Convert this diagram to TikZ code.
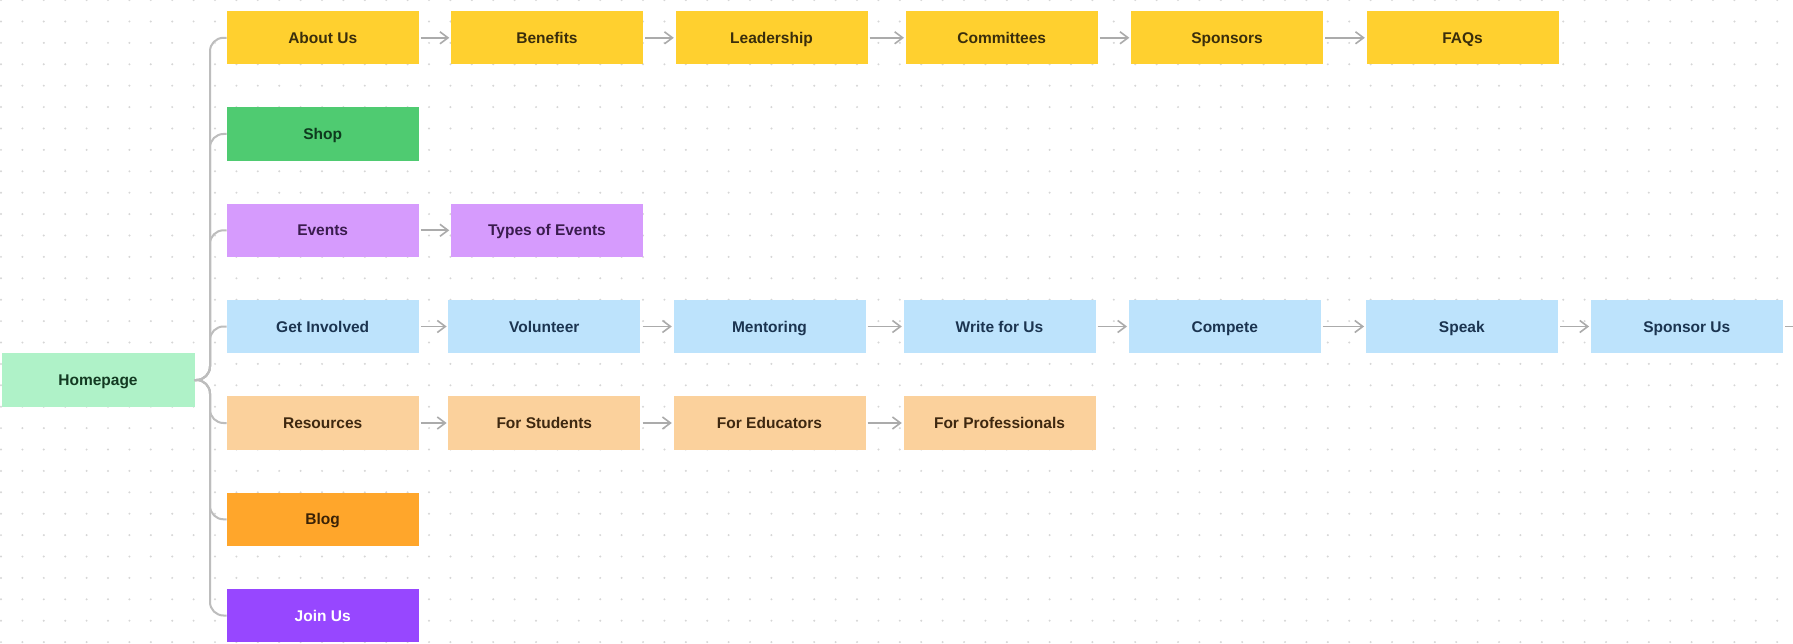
\documentclass[tikz,border=0pt]{standalone}
\usepackage{fontspec}
\setmainfont{Liberation Sans}
\usetikzlibrary{arrows.meta}
\definecolor{cyel}{HTML}{FFD02F}
\definecolor{tyel}{HTML}{3A2E0C}
\definecolor{cgrn}{HTML}{4FCB71}
\definecolor{tgrn}{HTML}{0E3A1E}
\definecolor{clav}{HTML}{D69BFD}
\definecolor{tlav}{HTML}{3A1C4E}
\definecolor{cblu}{HTML}{BDE3FC}
\definecolor{tblu}{HTML}{1B3450}
\definecolor{cpch}{HTML}{FBD19C}
\definecolor{tpch}{HTML}{3E2810}
\definecolor{cmnt}{HTML}{AFF2C8}
\definecolor{tmnt}{HTML}{133A22}
\definecolor{corg}{HTML}{FFA62B}
\definecolor{torg}{HTML}{3A2206}
\definecolor{cpur}{HTML}{9747FF}
\definecolor{dotc}{HTML}{D6D6D6}
\definecolor{arrc}{HTML}{ABABAB}
\definecolor{brc}{HTML}{BDBDBD}
\tikzset{
  boxst/.style={rectangle, minimum width=192pt, minimum height=53.3pt, inner sep=0pt,
    text height=11.1pt, text depth=0pt,
    font=\fontsize{15.5}{18}\selectfont\bfseries},
  yel/.style={boxst, fill=cyel, text=tyel},
  grn/.style={boxst, fill=cgrn, text=tgrn},
  lav/.style={boxst, fill=clav, text=tlav},
  blu/.style={boxst, fill=cblu, text=tblu},
  pch/.style={boxst, fill=cpch, text=tpch},
  mnt/.style={boxst, fill=cmnt, text=tmnt, minimum width=193pt, minimum height=54pt},
  org/.style={boxst, fill=corg, text=torg},
  pur/.style={boxst, fill=cpur, text=white},
  nextarr/.style={draw=arrc, line width=1.6pt, -{Straight Barb[length=8pt,width=12pt,line width=1.6pt]},
    shorten <=2pt, shorten >=1.5pt},
  branch/.style={draw=brc, line width=2pt, rounded corners=13.5pt}
}
\begin{document}
\begin{tikzpicture}[x=1pt,y=-1pt]
\useasboundingbox (0,0) rectangle (1793,644);
\fill[white] (0,0) rectangle (1793,644);
% dot grid
\foreach \i in {0,...,83}{
  \foreach \j in {0,...,30}{
    \fill[dotc] ({1+21.4*\i},{0.1+21.4*\j}) circle (1.1pt);
  }
}
\node[mnt] (home) at (98,380) {Homepage};
% row 1
\node[yel] (about) at (322.7,37.8) {About Us};
\node[yel] (benef) at (547,37.8) {Benefits};
\node[yel] (lead) at (771.5,37.8) {Leadership};
\node[yel] (comm) at (1001.7,37.8) {Committees};
\node[yel] (spons) at (1227,37.8) {Sponsors};
\node[yel] (faqs) at (1462.5,37.8) {FAQs};
% row 2
\node[grn] (shop) at (322.7,134) {Shop};
% row 3
\node[lav] (events) at (322.7,230.3) {Events};
\node[lav] (types) at (547,230.3) {Types of Events};
% row 4
\node[blu] (getinv) at (322.7,326.5) {Get Involved};
\node[blu] (volun) at (544.3,326.5) {Volunteer};
\node[blu] (mentor) at (769.5,326.5) {Mentoring};
\node[blu] (write) at (999.5,326.5) {Write for Us};
\node[blu] (compete) at (1224.7,326.5) {Compete};
\node[blu] (speak) at (1461.8,326.5) {Speak};
\node[blu] (sponus) at (1686.8,326.5) {Sponsor Us};
\coordinate (offright) at (1840,326.5);
% row 5
\node[pch] (resour) at (322.7,423) {Resources};
\node[pch] (stud) at (544.3,423) {For Students};
\node[pch] (educ) at (769.5,423) {For Educators};
\node[pch] (prof) at (999.5,423) {For Professionals};
% row 6, 7
\node[org] (blog) at (322.7,519.3) {Blog};
\node[pur] (join) at (322.7,615.5) {Join Us};
% branches
\coordinate (spine) at (210,380);
\foreach \t in {about,shop,events,getinv,resour,blog,join}{
  \draw[branch] (home.east) -- (spine) |- (\t.west);
}
% arrows
\draw[nextarr] (about) -- (benef);
\draw[nextarr] (benef) -- (lead);
\draw[nextarr] (lead) -- (comm);
\draw[nextarr] (comm) -- (spons);
\draw[nextarr] (spons) -- (faqs);
\draw[nextarr] (events) -- (types);
\draw[nextarr] (getinv) -- (volun);
\draw[nextarr] (volun) -- (mentor);
\draw[nextarr] (mentor) -- (write);
\draw[nextarr] (write) -- (compete);
\draw[nextarr] (compete) -- (speak);
\draw[nextarr] (speak) -- (sponus);
\draw[nextarr] (sponus) -- (offright);
\draw[nextarr] (resour) -- (stud);
\draw[nextarr] (stud) -- (educ);
\draw[nextarr] (educ) -- (prof);
\end{tikzpicture}
\end{document}
